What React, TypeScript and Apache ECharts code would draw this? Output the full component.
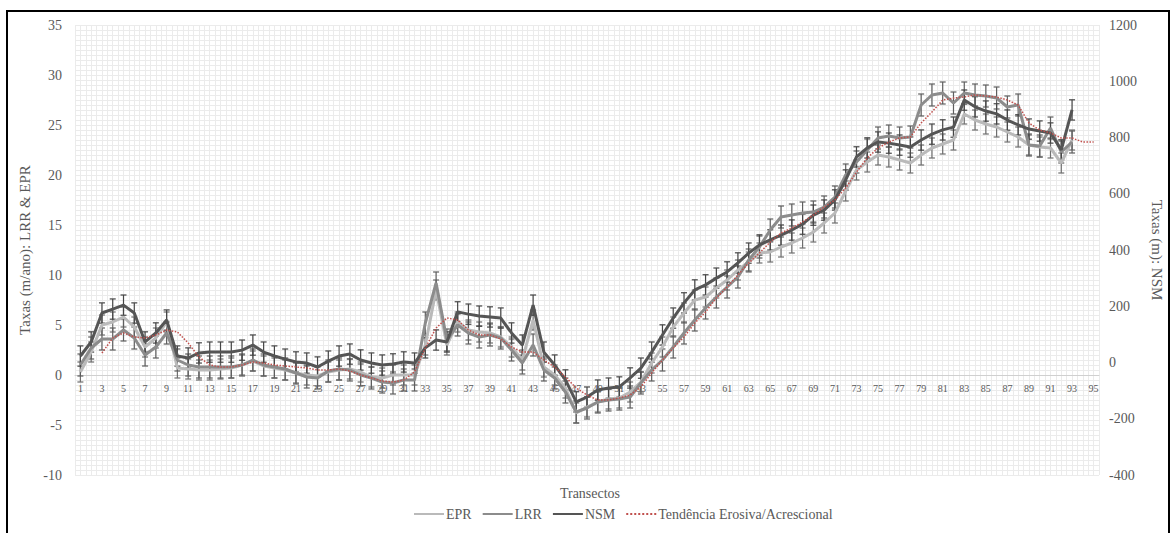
import React, { useEffect, useRef } from "react";
import * as echarts from "echarts";

const transects: string[] = Array.from({ length: 95 }, (_, i) => String(i + 1));

// Taxas (m/ano)
const epr: number[] = [
  0.3, 2.3, 5.0, 5.3, 5.8, 4.8, 2.8, 3.7, 5.3, 0.7,
  0.6, 0.5, 0.5, 0.6, 0.7, 1.0, 1.4, 0.9, 0.7, 0.5,
  0.2, 0.0, -0.1, 0.3, 0.5, 0.6, 0.3, -0.2, -0.3, 0.0,
  0.0, 0.0, 3.0, 8.5, 3.0, 5.3, 4.5, 4.3, 4.2, 3.8,
  2.8, 1.5, 5.5, 0.8, 0.0, -1.3, -3.8, -3.2, -2.7, -2.4,
  -2.3, -1.7, -0.7, 1.2, 2.8, 4.8, 6.2, 7.5, 7.8, 8.7,
  9.5, 10.5, 11.3, 12.2, 12.3, 12.8, 13.2, 13.7, 14.3, 15.2,
  16.2, 18.4, 20.5, 21.3, 22.0, 21.8, 21.5, 21.2, 22.0, 22.7,
  23.1, 23.5, 26.1, 25.5, 25.1, 24.8, 24.3, 23.8, 23.0, 22.8,
  22.7, 21.2, 23.5,
];

const lrr: number[] = [
  1.0, 2.7, 3.6, 3.6, 4.5, 3.7, 2.0, 2.8, 4.2, 1.5,
  1.0, 0.8, 0.8, 0.8, 0.8, 1.0, 1.5, 1.0, 0.8, 0.6,
  0.2, -0.2, -0.3, 0.4, 0.6, 0.5, 0.0, -0.3, -0.7, -0.8,
  -0.5, -0.5, 5.2, 9.2, 3.5, 5.0, 4.2, 3.8, 4.0, 3.7,
  2.5, 1.2, 3.0, 0.5, -0.3, -1.7, -3.7, -3.3, -2.7, -2.5,
  -2.4, -2.2, -0.8, 0.5, 1.5, 2.8, 4.2, 5.5, 6.7, 7.8,
  8.8, 9.8, 11.5, 12.8, 14.5, 15.8, 16.0, 16.2, 16.3, 16.8,
  17.8, 20.0, 21.3, 22.5, 23.7, 23.9, 23.7, 23.8, 27.0, 28.0,
  28.2, 27.2, 28.2, 28.0, 27.9, 27.7, 26.8, 27.0, 23.0, 22.9,
  24.7, 22.3, 23.3,
];

// Taxas (m): NSM
const nsm: number[] = [
  23, 73, 176, 190, 204, 176, 73, 105, 151, 23,
  16, 34, 37, 37, 37, 44, 62, 37, 23, 12,
  2, -2, -16, 5, 23, 30, 9, -2, -9, -5,
  2, -2, 52, 80, 73, 180, 172, 165, 162, 158,
  105, 62, 204, 37, -9, -62, -140, -123, -98, -91,
  -87, -55, -20, 37, 98, 158, 212, 258, 276, 300,
  322, 354, 389, 418, 436, 453, 471, 492, 524, 542,
  578, 649, 731, 763, 784, 780, 773, 766, 791, 812,
  827, 837, 933, 909, 894, 884, 862, 845, 830, 823,
  816, 756, 898,
];

// Tendência Erosiva/Acrescional
const trend: (number | null)[] = [
  null, null, 2.2, 3.7, 4.2, 3.8, 3.7, 4.0, 4.5, 4.3,
  3.2, 1.8, 1.0, 0.8, 0.8, 1.0, 1.3, 1.2, 1.0, 0.9,
  0.8, 0.7, 0.5, 0.5, 0.6, 0.4, 0.0, -0.3, -0.6, -0.7,
  -0.5, 0.3, 2.7, 4.7, 5.7, 5.5, 4.5, 4.0, 4.0, 3.6,
  2.8, 2.3, 2.3, 1.5, 0.8, -0.2, -1.3, -2.0, -2.5, -2.5,
  -2.3, -2.0, -1.2, 0.2, 1.5, 2.7, 3.8, 5.2, 6.3, 7.7,
  8.8, 10.0, 11.2, 12.2, 13.3, 14.2, 14.7, 15.3, 16.0, 16.8,
  17.5, 18.7, 20.3, 21.7, 22.7, 23.3, 23.7, 23.8, 25.2, 26.3,
  27.5, 27.7, 27.8, 28.0, 27.9, 27.8, 27.5, 27.0, 25.2, 24.5,
  24.2, 23.7, 23.7, 23.3, 23.3,
];

const EPR_ERR = 1.0;
const LRR_ERR = 1.1;
const NSM_ERR = 36;

const FONT = "'Liberation Serif', 'Times New Roman', serif";
const TXT = "#595959";
const GRID = "#ebebeb";

function errorBars(name: string, vals: number[], err: number, yAxisIndex: number, color: string) {
  return {
    type: "custom",
    name: name + "_err",
    yAxisIndex,
    silent: true,
    z: 3,
    data: vals.map((v, i) => [i, v - err, v + err]),
    encode: { x: 0, y: [1, 2] },
    renderItem: (_params: any, api: any) => {
      const x = api.value(0);
      const lo = api.coord([x, api.value(1)]);
      const hi = api.coord([x, api.value(2)]);
      const w = 3;
      const st = { stroke: color, lineWidth: 1.2 };
      return {
        type: "group",
        children: [
          { type: "line", shape: { x1: lo[0], y1: lo[1], x2: hi[0], y2: hi[1] }, style: st },
          { type: "line", shape: { x1: lo[0] - w, y1: lo[1], x2: lo[0] + w, y2: lo[1] }, style: st },
          { type: "line", shape: { x1: hi[0] - w, y1: hi[1], x2: hi[0] + w, y2: hi[1] }, style: st },
        ],
      };
    },
  };
}

export default function App() {
  const ref = useRef<HTMLDivElement>(null);
  useEffect(() => {
    if (!ref.current) return;
    const chart = echarts.init(ref.current, undefined, { renderer: "svg" });
    const option: any = {
      animation: false,
      backgroundColor: "#ffffff",
      textStyle: { fontFamily: FONT },
      grid: { left: 75, right: 67, top: 25, bottom: 58, containLabel: false },
      graphic: [
        {
          type: "rect",
          shape: { x: 7, y: 11, width: 1162, height: 540 },
          style: { fill: "none", stroke: "#000", lineWidth: 2 },
          z: 100,
        },
        {
          type: "text",
          x: 590,
          y: 493,
          style: {
            text: "Transectos",
            fill: TXT,
            fontFamily: FONT,
            fontSize: 14,
            textAlign: "center",
            textVerticalAlign: "middle",
          },
        },
      ],
      legend: {
        data: ["EPR", "LRR", "NSM", "Tendência Erosiva/Acrescional"],
        left: 408,
        top: 502,
        itemWidth: 30,
        itemHeight: 10,
        itemGap: 10,
        itemStyle: { opacity: 0 },
        textStyle: { color: TXT, fontFamily: FONT, fontSize: 14, padding: [0, 0, 0, -3] },
      },
      xAxis: [
        {
          type: "category",
          data: transects,
          boundaryGap: true,
          position: "bottom",
          offset: -100,
          axisLine: { show: true, onZero: false, lineStyle: { color: "#d0d0d0", width: 1 } },
          axisTick: { show: false },
          axisLabel: { interval: 1, color: TXT, fontFamily: FONT, fontSize: 10, margin: 8 },
          splitLine: { show: false },
          z: 2,
        },
        {
          type: "value",
          min: 0,
          max: 95,
          interval: 0.5,
          show: true,
          position: "top",
          axisLine: { show: false, onZero: false },
          axisTick: { show: false },
          axisLabel: { show: false },
          splitLine: { show: true, lineStyle: { color: GRID, width: 1 } },
        },
      ],
      yAxis: [
        {
          type: "value",
          min: -10,
          max: 35,
          interval: 5,
          name: "Taxas (m/ano): LRR & EPR",
          nameLocation: "middle",
          nameGap: 34,
          nameTextStyle: { color: TXT, fontFamily: FONT, fontSize: 15 },
          axisLine: { show: false, onZero: false },
          axisTick: { show: false },
          axisLabel: { color: TXT, fontFamily: FONT, fontSize: 14, margin: 13 },
          splitLine: { show: true, lineStyle: { color: GRID } },
          minorTick: { show: false, splitNumber: 10 },
          minorSplitLine: { show: true, lineStyle: { color: GRID } },
        },
        {
          type: "value",
          min: -400,
          max: 1200,
          interval: 200,
          position: "right",
          name: "Taxas (m): NSM",
          nameLocation: "middle",
          nameGap: 50,
          nameRotate: -90,
          nameTextStyle: { color: TXT, fontFamily: FONT, fontSize: 15 },
          axisLine: { show: false, onZero: false },
          axisTick: { show: false },
          axisLabel: {
            color: TXT,
            fontFamily: FONT,
            fontSize: 14,
            margin: 10,
            formatter: (v: number) => String(v),
          },
          splitLine: { show: false },
        },
      ],
      series: [
        errorBars("EPR", epr, EPR_ERR, 0, "#6e6e6e"),
        errorBars("LRR", lrr, LRR_ERR, 0, "#5e5e5e"),
        errorBars("NSM", nsm, NSM_ERR, 1, "#454545"),
        {
          name: "EPR",
          type: "line",
          data: epr,
          yAxisIndex: 0,
          symbol: "none",
          z: 4,
          lineStyle: { color: "#bababa", width: 3 },
          itemStyle: { color: "#bababa" },
        },
        {
          name: "LRR",
          type: "line",
          data: lrr,
          yAxisIndex: 0,
          symbol: "none",
          z: 4,
          lineStyle: { color: "#8c8c8c", width: 3 },
          itemStyle: { color: "#8c8c8c" },
        },
        {
          name: "NSM",
          type: "line",
          data: nsm,
          yAxisIndex: 1,
          symbol: "none",
          z: 5,
          lineStyle: { color: "#555555", width: 3 },
          itemStyle: { color: "#555555" },
        },
        {
          name: "Tendência Erosiva/Acrescional",
          type: "line",
          data: trend,
          yAxisIndex: 0,
          symbol: "none",
          z: 6,
          lineStyle: { color: "#c0504d", width: 1.5, type: "dotted" },
          itemStyle: { color: "#c0504d" },
        },
      ],
    };
    chart.setOption(option);
    return () => chart.dispose();
  }, []);
  return (
    <div
      ref={ref}
      style={{ position: "fixed", left: 0, top: 0, width: 1172, height: 533, background: "#fff" }}
    />
  );
}
